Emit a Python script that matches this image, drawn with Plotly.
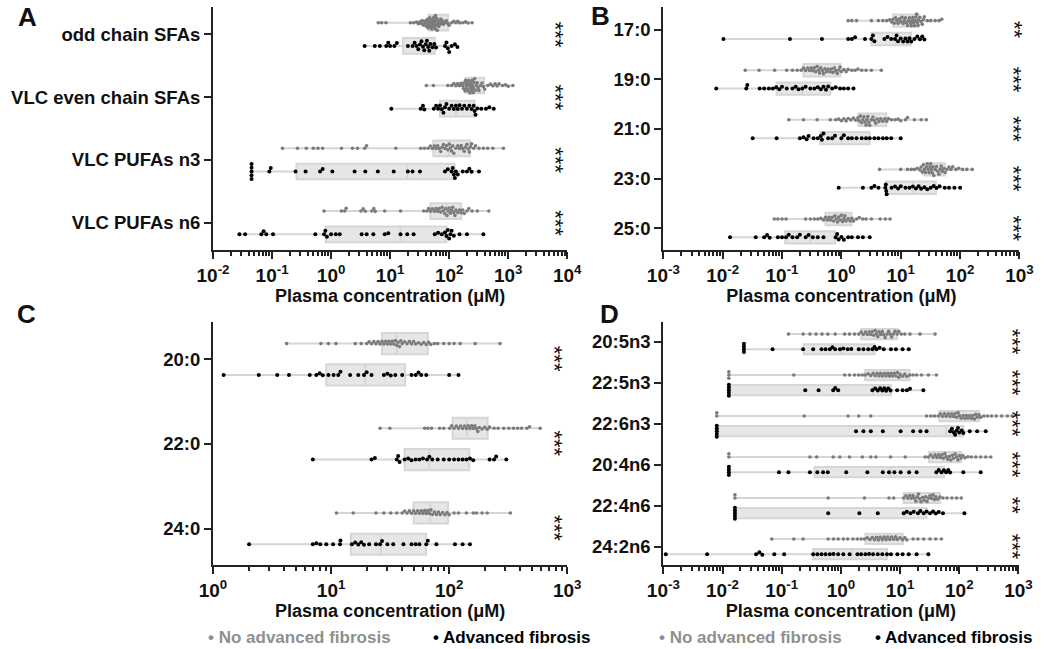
import numpy as np
import plotly.graph_objects as go

# ---------------- DATA ----------------
# Panel A
A_cats = ["odd chain SFAs", "VLC even chain SFAs", "VLC PUFAs n3", "VLC PUFAs n6"]
A_sig = ["***", "***", "***", "***"]
A_noadv = [
    [6.3, 7.2, 8.5, 22, 25, 28, 30, 32, 34, 35, 37, 38, 40, 41, 42, 43, 44, 45, 46, 47, 48, 49, 50, 51, 52, 53,
     54, 55, 56, 57, 58, 59, 60, 61, 62, 63, 65, 67, 68, 70, 72, 75, 78, 80, 85, 90, 95, 100, 110, 120, 130, 140,
     150, 170, 190, 210, 245],
    [41, 54, 95, 110, 120, 130, 140, 150, 160, 170, 175, 180, 185, 190, 195, 200, 205, 210, 215, 220, 225, 230,
     235, 240, 245, 250, 255, 260, 265, 270, 280, 290, 300, 310, 320, 340, 360, 380, 400, 450, 500, 550, 600, 650,
     700, 800, 900, 1000, 1200],
    [0.15, 0.27, 0.38, 0.5, 0.6, 0.72, 1.5, 2.3, 2.8, 3.7, 4.0, 12.5, 33, 38, 44, 48, 52, 56, 60, 64, 68, 72, 76,
     80, 85, 90, 95, 100, 105, 110, 115, 120, 130, 140, 150, 160, 170, 180, 190, 200, 210, 220, 230, 240, 260,
     280, 320, 380, 450, 550, 830],
    [0.76, 1.5, 1.7, 1.8, 3.2, 3.5, 3.8, 4.9, 5.3, 5.6, 8.1, 15, 37, 42, 45, 48, 52, 56, 60, 64, 68, 72, 76, 80,
     84, 88, 92, 96, 100, 105, 110, 115, 120, 125, 130, 140, 150, 160, 170, 180, 200, 215, 245, 300, 470],
]
A_adv = [
    [3.7, 5.5, 6.7, 8.6, 9.3, 10, 11.8, 13, 20, 24, 26, 28, 30, 32, 34, 36, 38, 40, 42, 44, 46, 48, 52, 56, 60,
     85, 90, 95, 100, 110, 125, 138],
    [10.5, 33, 36, 38, 55, 60, 65, 70, 75, 80, 85, 90, 100, 110, 120, 130, 140, 150, 165, 180, 200, 220, 240, 260,
     270, 280, 300, 350, 420, 480, 570],
    [0.045, 0.045, 0.045, 0.045, 0.045, 0.09, 0.095, 0.25, 0.37, 0.65, 0.72, 1.05, 2.5, 3.8, 6.2, 11.5, 20, 24, 32,
     85, 95, 110, 115, 120, 125, 130, 140, 170, 200, 220, 240, 320],
    [0.028, 0.035, 0.066, 0.072, 0.08, 0.104, 0.54, 0.76, 0.8, 0.85, 1.0, 1.2, 1.4, 3.3, 4.0, 5.2, 8.1, 9.3, 15,
     19.5, 25, 57, 65, 75, 85, 90, 95, 100, 105, 110, 120, 150, 200, 380],
]
A_noadv_q = [(45, 57, 96), (190, 245, 390), (54, 100, 225), (48, 90, 160)]
A_adv_q = [(16.6, 35, 57), (70, 130, 270), (0.26, 19.5, 123), (0.81, 15, 90)]

# Panel B
B_cats = ["17:0", "19:0", "21:0", "23:0", "25:0"]
B_sig = ["**", "***", "***", "***", "***"]
B_noadv = [
    [1.3, 1.5, 1.8, 3.2, 4.2, 5, 5.8, 6.5, 7, 7.4, 7.8, 8.2, 8.6, 9, 9.5, 10, 10.5, 11, 11.5, 12, 12.5, 13, 13.5,
     14, 14.5, 15, 15.5, 16, 16.5, 17, 17.5, 18, 18.5, 19, 19.5, 20, 21, 22, 23, 24, 25, 28, 32, 38, 44, 49],
    [0.024, 0.041, 0.075, 0.12, 0.15, 0.18, 0.21, 0.23, 0.25, 0.27, 0.29, 0.31, 0.33, 0.35, 0.37, 0.39, 0.41,
     0.43, 0.45, 0.48, 0.5, 0.53, 0.56, 0.6, 0.64, 0.68, 0.72, 0.76, 0.8, 0.85, 0.9, 0.95, 1.0, 1.1, 1.2, 1.3,
     1.5, 1.7, 1.9, 2.2, 2.6, 3.2, 4.7],
    [0.13, 0.23, 0.39, 0.65, 0.8, 0.9, 1.0, 1.1, 1.2, 1.3, 1.45, 1.6, 1.75, 1.9, 2.0, 2.1, 2.2, 2.3, 2.4, 2.5,
     2.6, 2.7, 2.8, 2.9, 3.0, 3.2, 3.4, 3.6, 3.8, 4.0, 4.3, 4.6, 5.0, 5.4, 5.8, 6.2, 7, 8, 9, 10, 12, 13, 17, 22,
     27],
    [4.4, 10, 13, 15, 17, 19, 21, 22, 23, 24, 25, 26, 27, 28, 29, 30, 31, 32, 33, 34, 35, 36, 38, 40, 42, 44, 46,
     48, 50, 53, 56, 60, 65, 70, 75, 85, 95, 110, 130, 160],
    [0.074, 0.085, 0.1, 0.117, 0.25, 0.3, 0.35, 0.4, 0.45, 0.5, 0.54, 0.58, 0.62, 0.66, 0.7, 0.74, 0.78, 0.82,
     0.86, 0.9, 0.95, 1.0, 1.05, 1.1, 1.15, 1.2, 1.3, 1.4, 1.5, 1.6, 1.8, 2.0, 2.3, 2.6, 3.2, 4.5, 5.5, 6.6],
]
B_adv = [
    [0.0103, 0.136, 0.47, 1.3, 1.5, 1.7, 2.5, 3.2, 3.4, 3.6, 5.3, 6, 6.9, 8, 8.5, 9, 10, 11, 12, 13, 14, 15, 17,
     19, 21, 23, 25],
    [0.0078, 0.025, 0.026, 0.042, 0.05, 0.06, 0.07, 0.08, 0.09, 0.1, 0.12, 0.15, 0.17, 0.19, 0.22, 0.25, 0.3,
     0.35, 0.4, 0.45, 0.5, 0.55, 0.6, 0.7, 0.8, 0.95, 1.1, 1.3, 1.6],
    [0.032, 0.081, 0.2, 0.23, 0.26, 0.28, 0.34, 0.4, 0.45, 0.47, 0.5, 0.6, 0.7, 0.78, 1.0, 1.1, 1.3, 1.5, 1.8,
     2.2, 2.6, 3.0, 3.6, 4.2, 5.0, 5.8, 6.9, 10],
    [0.9, 2.3, 3.2, 3.6, 4.2, 5.5, 5.6, 5.7, 5.8, 7, 8, 9, 10, 12, 14, 16, 18, 20, 22, 25, 28, 32, 36, 40, 45, 55,
     65, 80, 100],
    [0.0133, 0.036, 0.05, 0.056, 0.062, 0.085, 0.1, 0.117, 0.13, 0.15, 0.18, 0.2, 0.25, 0.28, 0.33, 0.4, 0.5, 0.8,
     0.85, 0.9, 1.0, 1.1, 1.3, 1.5, 1.9, 2.3, 3.0],
]
B_noadv_q = [(7.4, 10.7, 20), (0.23, 0.42, 0.96), (1.93, 2.8, 5.7), (24, 32, 56), (0.54, 0.9, 1.48)]
B_adv_q = [(3.2, 8.3, 14.8), (0.081, 0.22, 0.65), (0.44, 1.0, 3.0), (5.7, 16, 39), (0.113, 0.3, 0.79)]

# Panel C
C_cats = ["20:0", "22:0", "24:0"]
C_sig = ["***", "***", "***"]
C_noadv = [
    [4.2, 8.2, 9.5, 11, 16, 18, 20, 21, 22, 23, 24, 25, 26, 27, 28, 29, 30, 31, 32, 33, 34, 35, 36, 37, 38, 39, 40,
     42, 44, 46, 48, 50, 52, 55, 58, 61, 64, 67, 70, 75, 80, 90, 100, 110, 124, 166, 270],
    [26, 31.5, 62, 66, 71, 83, 90, 101, 105, 110, 115, 120, 125, 130, 135, 140, 145, 150, 155, 160, 165, 170, 175,
     180, 190, 200, 210, 220, 240, 260, 290, 320, 350, 380, 410, 455, 480, 590],
    [11.1, 15.4, 24, 28, 32, 36, 40, 42, 44, 46, 48, 50, 52, 54, 56, 58, 60, 62, 64, 66, 68, 70, 72, 75, 78, 81,
     84, 88, 92, 96, 100, 110, 120, 140, 160, 170, 190, 210, 330],
]
C_adv = [
    [1.23, 2.44, 3.5, 4.4, 6.6, 7.5, 8, 8.5, 9.5, 10.5, 11.5, 12, 14.5, 17, 19, 20, 22, 28, 30, 32, 35, 40, 48, 52,
     55, 58, 64, 100, 120],
    [7.0, 22, 23.5, 36, 37, 38, 42, 45, 48, 52, 56, 60, 65, 68, 72, 80, 90, 100, 110, 120, 130, 140, 150, 160, 220,
     240, 250, 305],
    [2.02, 7, 7.5, 8.1, 9.1, 10.4, 11.9, 12, 15, 16, 17, 18, 19, 21, 24, 26, 27, 30, 33.6, 41, 48, 52, 56, 64, 66,
     78, 112, 130, 150],
]
C_noadv_q = [(27, 36, 66), (107, 141, 212), (50, 69, 98)]
C_adv_q = [(9.1, 19.4, 42.4), (42, 68, 148), (14.7, 26.5, 63.7)]

# Panel D
D_cats = ["20:5n3", "22:5n3", "22:6n3", "20:4n6", "22:4n6", "24:2n6"]
D_sig = ["***", "***", "***", "***", "**", "***"]
D_noadv = [
    [0.13, 0.23, 0.3, 0.38, 0.48, 0.6, 0.8, 1.16, 1.4, 1.7, 2.0, 2.2, 2.4, 2.6, 2.8, 3.0, 3.2, 3.4, 3.6, 3.8, 4.0,
     4.2, 4.4, 4.7, 5.0, 5.3, 5.6, 6.0, 6.4, 6.8, 7.2, 7.7, 8.2, 8.9, 9.5, 10.5, 12, 14.7, 21.7, 39],
    [0.0128, 0.0128, 0.0128, 0.16, 1.16, 1.4, 1.7, 2.0, 2.3, 2.6, 2.9, 3.2, 3.5, 3.8, 4.1, 4.4, 4.7, 5.0, 5.4,
     5.8, 6.2, 6.6, 7.0, 7.5, 8.0, 8.5, 9.0, 9.5, 10, 11, 12, 13, 14.5, 16.5, 19, 23, 30, 41],
    [0.008, 0.008, 0.24, 1.32, 2.0, 3.2, 28, 33, 38, 44, 48, 52, 56, 60, 65, 70, 75, 80, 85, 90, 95, 100, 108,
     116, 124, 132, 140, 150, 160, 170, 180, 190, 200, 215, 230, 260, 300, 350, 420, 520, 650, 780],
    [0.0128, 0.0128, 0.3, 0.39, 0.74, 0.96, 1.4, 2.3, 3.2, 3.9, 6.9, 12.2, 26.5, 30, 33, 36, 39, 42, 45, 48, 51,
     54, 57, 60, 64, 68, 72, 76, 80, 85, 90, 95, 100, 107, 115, 125, 140, 160, 190, 230, 280, 340],
    [0.0162, 0.0162, 0.61, 2.5, 6.5, 7.8, 11.5, 12.5, 13.5, 14.5, 15.5, 16.5, 17.5, 18.5, 19.5, 20.5, 21.5, 22.5,
     24, 25.5, 27, 28.5, 30, 32, 34, 36, 38, 40, 43, 47, 53, 62, 75, 90, 108],
    [0.068, 0.16, 0.23, 0.61, 0.75, 0.9, 1.1, 1.3, 1.6, 1.9, 2.2, 2.5, 2.8, 3.1, 3.4, 3.7, 4.0, 4.3, 4.6, 5.0,
     5.4, 5.8, 6.2, 6.7, 7.2, 7.8, 8.4, 9.0, 10, 11, 12, 13, 16.6, 20, 25, 32, 40, 50],
]
D_adv = [
    [0.023, 0.023, 0.023, 0.023, 0.07, 0.23, 0.34, 0.47, 0.55, 0.65, 0.72, 0.8, 0.96, 1.1, 1.3, 1.5, 2.0, 2.4,
     2.9, 3.4, 3.7, 4.0, 4.5, 5.3, 7, 8.5, 11, 14],
    [0.0128, 0.0128, 0.0128, 0.0128, 0.0128, 0.25, 0.42, 0.74, 0.8, 0.9, 3.4, 3.8, 4.2, 4.6, 5.0, 5.4, 5.8, 6.3,
     6.9, 8.9, 11, 13, 14.7, 24.7],
    [0.008, 0.008, 0.008, 0.008, 0.008, 1.8, 2.4, 3.2, 5.1, 10.2, 16.6, 22, 28, 70, 75, 80, 85, 90, 95, 100, 110,
     117, 150, 200, 280],
    [0.0128, 0.0128, 0.0128, 0.0128, 0.09, 0.13, 0.3, 0.4, 0.5, 0.6, 1.23, 2.8, 5.1, 6.5, 8, 10.2, 14.2, 19, 41,
     45, 50, 55, 60, 65, 70, 117, 230],
    [0.0162, 0.0162, 0.0162, 0.0162, 0.0162, 0.61, 2.05, 4.2, 11.5, 13, 15, 17, 20, 22, 25, 28, 32, 36, 40, 45,
     53, 122],
    [0.0011, 0.0055, 0.037, 0.042, 0.047, 0.075, 0.11, 0.34, 0.4, 0.47, 0.55, 0.65, 0.75, 0.9, 1.1, 1.4, 1.9, 2.2,
     2.6, 3.0, 3.5, 4.2, 5.0, 6.0, 7, 9, 11, 14, 19, 30],
]
D_noadv_q = [(2.2, 4.2, 8.9), (2.56, 5.4, 14.5), (46, 100, 215), (31, 54, 107), (11.5, 20, 47), (2.6, 5.0, 11.1)]
D_adv_q = [(0.235, 1.0, 3.7), (0.013, 3.5, 7.0), (0.0085, 60, 117), (0.36, 6.9, 55), (0.017, 12, 28),
           (0.34, 1.5, 6.0)]

GROUP_NAMES = ["No advanced fibrosis", "Advanced fibrosis"]
X_TITLE = "Plasma concentration (μM)"

# ---------------- STYLE / LAYOUT ----------------
W, H = 1050, 649
FONT = "Arial, Liberation Sans, Helvetica, sans-serif"
AX = "#222222"
GREY_PT = "#7b7b7b"
BLACK_PT = "#000000"
BOX_FILL = "#e6e6e6"
BOX_LINE = "#d6d6d6"

panels = [
    dict(k="", cats=A_cats, sig=A_sig, g=A_noadv, b=A_adv, qg=A_noadv_q, qb=A_adv_q, xr=(-2, 4),
         px=(203, 568, 7, 250), pad=(0.435, 0.435), star=0.967, letter="A", lpos=(12, 17), half=7.5),
    dict(k="2", cats=B_cats, sig=B_sig, g=B_noadv, b=B_adv, qg=B_noadv_q, qb=B_adv_q, xr=(-3, 3),
         px=(667, 1034, 7, 250), pad=(0.46, 0.44), star=0.984, letter="B", lpos=(602, 16), half=6.5),
    dict(k="3", cats=C_cats, sig=C_sig, g=C_noadv, b=C_adv, qg=C_noadv_q, qb=C_adv_q, xr=(0, 3),
         px=(203, 568, 322, 565), pad=(0.44, 0.43), star=0.964, letter="C", lpos=(11, 314), half=10),
    dict(k="4", cats=D_cats, sig=D_sig, g=D_noadv, b=D_adv, qg=D_noadv_q, qb=D_adv_q, xr=(-3, 3),
         px=(667, 1033, 322, 565), pad=(0.48, 0.45), star=0.984, letter="D", lpos=(612, 314), half=5.5),
]


def swarm(vals, ppd, diam, half):
    """Deterministic beeswarm offsets (pixels) for values on a log axis, capped to +-half."""
    xs = np.log10(np.asarray(vals, float)) * ppd
    order = np.argsort(xs, kind="stable")
    placed = []
    ys = np.zeros(len(xs))
    for i in order:
        x = xs[i]
        ivs = []
        for (px_, py_) in placed:
            dx = abs(x - px_)
            if dx < diam:
                h = np.sqrt(diam ** 2 - dx ** 2)
                ivs.append((py_ - h, py_ + h))
        cands = [0.0] + [e for iv in ivs for e in iv]
        cands.sort(key=lambda c: (abs(c), c))
        for c in cands:
            if all(not (lo + 1e-6 < c < hi - 1e-6) for lo, hi in ivs):
                ys[i] = c
                break
        placed.append((x, ys[i]))
    m = np.max(np.abs(ys)) if len(ys) else 0
    if m > half:
        ys = ys * half / m
    return ys


fig = go.Figure()
annotations = []
layout_axes = {}
OFF = 0.185
BOXW = 0.25

for p in panels:
    k = p["k"]
    xa, ya = "x" + k, "y" + k
    x0, x1, y0, y1 = p["px"]
    n = len(p["cats"])
    yr = (n - 1 + p["pad"][1], -p["pad"][0])
    ppd = (x1 - x0) / (p["xr"][1] - p["xr"][0])
    ppu = (y1 - y0) / (yr[0] - yr[1])

    for gi, (series, quart, col, size, diam, sign) in enumerate([
        (p["g"], p["qg"], GREY_PT, 3.6, 3.2, -1),
        (p["b"], p["qb"], BLACK_PT, 4.0, 3.8, 1),
    ]):
        for ci in range(n):
            vals = series[ci]
            q1, med, q3 = quart[ci]
            pos = ci + sign * OFF
            fig.add_trace(go.Box(
                orientation="h", y=[pos], q1=[q1], median=[med], q3=[q3],
                lowerfence=[min(vals)], upperfence=[max(vals)],
                width=BOXW, whiskerwidth=0, boxpoints=False,
                fillcolor=BOX_FILL, line=dict(color=BOX_LINE, width=2),
                xaxis=xa, yaxis=ya, showlegend=False, hoverinfo="skip",
            ))
            offs = swarm(vals, ppd, diam, p["half"])
            fig.add_trace(go.Scatter(
                x=vals, y=pos + offs / ppu, mode="markers",
                marker=dict(color=col, size=size, line=dict(width=0)),
                xaxis=xa, yaxis=ya, showlegend=False, hoverinfo="skip",
                name=GROUP_NAMES[gi],
            ))

    lo, hi = p["xr"]
    major = [10.0 ** e for e in range(lo, hi + 1)]
    minor = [m * 10.0 ** e for e in range(lo, hi) for m in range(2, 10)]
    xkey = "xaxis" + k
    ykey = "yaxis" + k
    layout_axes[xkey] = dict(
        type="log", range=[lo, hi], domain=[x0 / W, x1 / W], anchor=ya,
        tickvals=major, ticktext=[f"10<sup>{e}</sup>" for e in range(lo, hi + 1)],
        ticks="outside", ticklen=7, tickwidth=2, tickcolor=AX,
        minor=dict(tickvals=minor, ticks="outside", ticklen=4, tickwidth=1.5, tickcolor=AX),
        showline=True, linewidth=2, linecolor=AX, showgrid=False, zeroline=False,
        tickfont=dict(family=FONT, size=19, color="#111", weight="bold"),
        title=dict(text=X_TITLE, standoff=2, font=dict(family=FONT, size=18, color="#111", weight="bold")),
    )
    layout_axes[ykey] = dict(
        range=list(yr), domain=[1 - y1 / H, 1 - y0 / H], anchor=xa,
        tickvals=list(range(n)), ticktext=p["cats"],
        ticks="outside", ticklen=7, tickwidth=2, tickcolor=AX,
        showline=True, linewidth=2, linecolor=AX, showgrid=False, zeroline=False,
        tickfont=dict(family=FONT, size=18.5, color="#111", weight="bold"),
    )
    # significance stars, written vertically
    for ci, s in enumerate(p["sig"]):
        annotations.append(dict(
            xref=xa + " domain", yref=ya, x=p["star"], y=ci, text=s, textangle=90,
            showarrow=False, xanchor="center", yanchor="middle",
            font=dict(family=FONT, size=22, color="#111"),
        ))
    annotations.append(dict(
        xref="paper", yref="paper", x=p["lpos"][0] / W, y=1 - p["lpos"][1] / H, text=p["letter"],
        showarrow=False, xanchor="center", yanchor="middle",
        font=dict(family=FONT, size=26, color="#111", weight="bold"),
    ))

# legend text rows under panels C and D
for (xl, xr_) in [(196, 428), (660, 883)]:
    annotations.append(dict(xref="paper", yref="paper", x=xl / W, y=1 - 637 / H,
                            text="• " + GROUP_NAMES[0], showarrow=False, xanchor="left", yanchor="middle",
                            font=dict(family=FONT, size=17, color="#8f8f8f", weight="bold")))
    annotations.append(dict(xref="paper", yref="paper", x=xr_ / W, y=1 - 637 / H,
                            text="• " + GROUP_NAMES[1], showarrow=False, xanchor="left", yanchor="middle",
                            font=dict(family=FONT, size=17, color="#000", weight="bold")))

fig.update_layout(
    width=W, height=H, margin=dict(l=0, r=0, t=0, b=0),
    paper_bgcolor="white", plot_bgcolor="white",
    showlegend=False, boxmode="overlay",
    annotations=annotations, **layout_axes,
)
fig.write_html("out.html", config={"displayModeBar": False},
               post_script="document.body.style.margin='0';document.body.style.overflow='hidden';")
